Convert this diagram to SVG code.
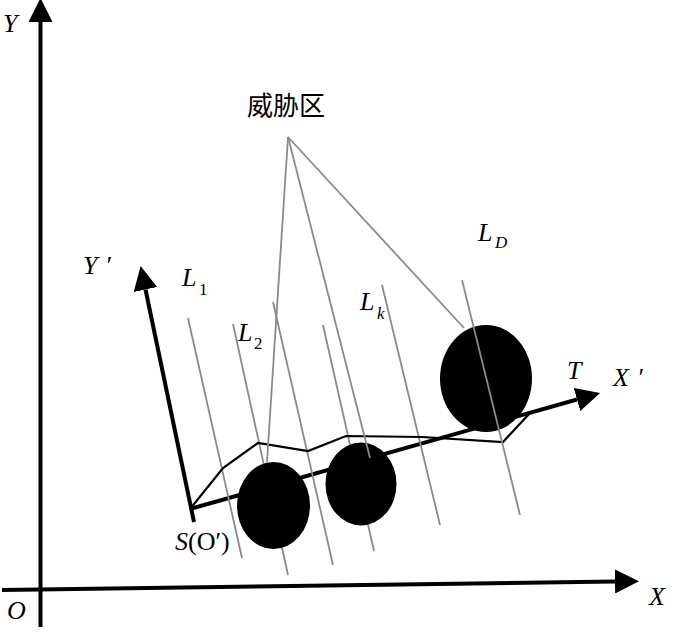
<svg xmlns="http://www.w3.org/2000/svg" width="700" height="632" viewBox="0 0 700 632">
<style>
.ax{stroke:#000;stroke-width:4;fill:none}
.hatch{stroke:#8a8a8a;stroke-width:1.8;fill:none}
.traj{stroke:#000;stroke-width:2.2;fill:none;stroke-linejoin:miter}
.obs{fill:#000}
.lbl{font-family:"Liberation Serif","Times New Roman",serif;font-size:26px;font-style:italic;fill:#000}
.sub{font-size:17px}
.up{font-style:normal}
.cjk{font-family:"Noto Sans CJK SC","Noto Sans",sans-serif;font-size:26px;fill:#000}
</style>
<defs>
<marker id="arr" markerUnits="userSpaceOnUse" markerWidth="24" markerHeight="24" refX="0" refY="11" orient="auto" viewBox="0 0 22 22">
<path d="M0,0 L22,11 L0,22 z" fill="#000"/>
</marker>
</defs>
<rect width="700" height="632" fill="#fff"/>
<g id="axes">
<line class="ax" x1="40.5" y1="627" x2="40.5" y2="22" marker-end="url(#arr)"/>
<line class="ax" x1="2" y1="590" x2="615" y2="581.5" marker-end="url(#arr)"/>
<line class="ax" x1="194" y1="522" x2="145.5" y2="289.5" marker-end="url(#arr)"/>
<line class="ax" x1="190" y1="509" x2="577" y2="399.5" marker-end="url(#arr)"/>
</g>
<g id="lines-back">
<line class="hatch" x1="188" y1="318" x2="242" y2="558"/>
<line class="hatch" x1="233" y1="324" x2="288" y2="575"/>
<line class="hatch" x1="273" y1="302" x2="333" y2="565"/>
<line class="hatch" x1="323" y1="325" x2="374" y2="551"/>
<line class="hatch" x1="382" y1="285" x2="440" y2="525"/>
</g>
<g id="trajectory">
<polyline class="traj" points="190,509 223,468 258,443 308,451 346,436 422,437 503,442 530,413"/>
</g>
<g id="obstacles">
<ellipse id="obs1" class="obs" cx="273.5" cy="505.5" rx="36.5" ry="43.5"/>
<ellipse id="obs2" class="obs" cx="361" cy="484" rx="35.5" ry="41.5"/>
<ellipse id="obs3" class="obs" cx="486" cy="378.5" rx="46" ry="53.5"/>
</g>
<g id="lines-front">
<line class="hatch" x1="462" y1="280" x2="520" y2="515"/>
<line class="hatch" x1="288" y1="137" x2="267" y2="462"/>
<line class="hatch" x1="288" y1="137" x2="370" y2="458"/>
<line class="hatch" x1="288" y1="137" x2="464" y2="328"/>
</g>
<g id="labels">
<text class="lbl" x="3" y="32">Y</text>
<text class="lbl" x="7" y="619">O</text>
<text class="lbl" x="649" y="605">X</text>
<text class="lbl" x="83" y="274">Y<tspan x="105">′</tspan></text>
<text class="lbl" x="613" y="386">X<tspan x="637">′</tspan></text>
<text class="lbl" x="567" y="379">T</text>
<text class="lbl" x="182" y="286">L<tspan class="sub up" x="199" y="295">1</tspan></text>
<text class="lbl" x="238" y="341">L<tspan class="sub up" x="254" y="349">2</tspan></text>
<text class="lbl" x="360" y="310">L<tspan class="sub" x="377" y="319">k</tspan></text>
<text class="lbl" x="478" y="241">L<tspan class="sub" x="495" y="248">D</tspan></text>
<text class="lbl" x="175" y="550">S<tspan class="up">(O′)</tspan></text>
<text class="cjk" x="247" y="115">威胁区</text>
</g>
</svg>
